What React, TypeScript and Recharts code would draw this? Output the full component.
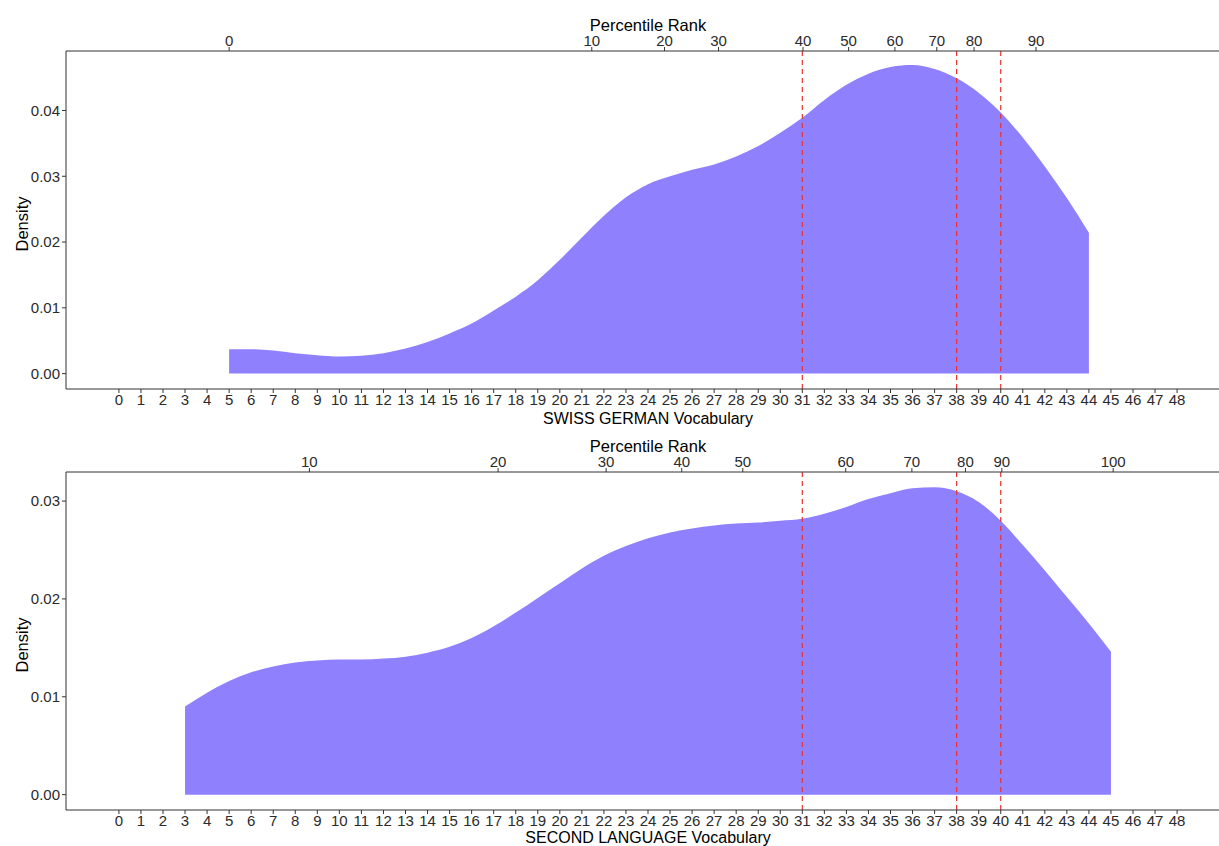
import React from 'react'
import { AreaChart, Area, XAxis, YAxis, ReferenceLine } from 'recharts'

const FONT = '"Liberation Sans", Arial, Helvetica, sans-serif'
const FILL = '#8f80fe'
const DASH = '#e8322f'

// bottom axis: vocabulary score
const vocabTicks = [
  0, 1, 2, 3, 4, 5, 6, 7, 8, 9, 10, 11, 12, 13, 14, 15, 16, 17, 18, 19, 20, 21, 22, 23, 24,
  25, 26, 27, 28, 29, 30, 31, 32, 33, 34, 35, 36, 37, 38, 39, 40, 41, 42, 43, 44, 45, 46, 47, 48,
]
const cutoffs = [31, 38, 40]

// SWISS GERMAN
const sgScores = [
  5, 6, 7, 8, 9, 10, 11, 12, 13, 14, 15, 16, 17, 18, 19, 20, 21, 22, 23, 24,
  25, 26, 27, 28, 29, 30, 31, 32, 33, 34, 35, 36, 37, 38, 39, 40, 41, 42, 43, 44,
]
const sgDensity = [
  0.0037, 0.0037, 0.0035, 0.0031, 0.0028, 0.0026, 0.0027, 0.0031, 0.0038, 0.0048,
  0.0061, 0.0076, 0.0096, 0.0117, 0.0142, 0.0173, 0.0207, 0.024, 0.0268, 0.0288,
  0.03, 0.031, 0.0318, 0.033, 0.0346, 0.0366, 0.0389, 0.0416, 0.0439, 0.0456,
  0.0466, 0.0469, 0.0463, 0.0449, 0.0427, 0.0397, 0.0359, 0.0315, 0.0267, 0.0214,
]
const sgRankPos = [5, 21.45, 24.75, 27.2, 31.03, 33.1, 35.2, 37.1, 38.79, 41.6]
const sgRankLabels = ['0', '10', '20', '30', '40', '50', '60', '70', '80', '90']

// SECOND LANGUAGE
const slScores = [
  3, 4, 5, 6, 7, 8, 9, 10, 11, 12, 13, 14, 15, 16, 17, 18, 19, 20, 21, 22, 23, 24,
  25, 26, 27, 28, 29, 30, 31, 32, 33, 34, 35, 36, 37, 38, 39, 40, 41, 42, 43, 44, 45,
]
const slDensity = [
  0.009, 0.0104, 0.0116, 0.0125, 0.0131, 0.0135, 0.0137, 0.0138, 0.0138, 0.0139,
  0.0141, 0.0145, 0.0151, 0.016, 0.0172, 0.0186, 0.0201, 0.0216, 0.0231, 0.0244,
  0.0254, 0.0262, 0.0268, 0.0272, 0.0275, 0.0277, 0.0278, 0.028, 0.0282, 0.0287,
  0.0294, 0.0302, 0.0308, 0.0313, 0.0314, 0.031, 0.0299, 0.028, 0.0255, 0.0229,
  0.0202, 0.0175, 0.0146,
]
const slRankPos = [8.64, 17.2, 22.1, 25.53, 28.3, 32.97, 35.97, 38.4, 40.05, 45.1]
const slRankLabels = ['10', '20', '30', '40', '50', '60', '70', '80', '90', '100']

const sgYTicks = [0, 0.01, 0.02, 0.03, 0.04]
const slYTicks = [0, 0.01, 0.02, 0.03]

const tickStyle = { fill: '#2b2b2b', fontSize: 15, fontFamily: FONT }

function TopTitle(props: any) {
  const vb = props.viewBox
  return (
    <text x={vb.x + vb.width / 2} y={vb.y + 31} textAnchor="middle" fontSize={16.5} fontFamily={FONT} fill="#000">
      Percentile Rank
    </text>
  )
}

function makeBottomTitle(title: string, offset: number) {
  return function BottomTitle(props: any) {
    const vb = props.viewBox
    return (
      <text x={vb.x + vb.width / 2} y={vb.y + offset} textAnchor="middle" fontSize={16} fontFamily={FONT} fill="#000">
        {title}
      </text>
    )
  }
}

function DensityTitle(props: any) {
  const vb = props.viewBox
  const cx = 22
  const cy = vb.y + vb.height / 2 + 4
  return (
    <text
      x={cx}
      y={cy}
      transform={`rotate(-90 ${cx} ${cy})`}
      textAnchor="middle"
      dominantBaseline="central"
      fontSize={16.5}
      fontFamily={FONT}
      fill="#000"
    >
      Density
    </text>
  )
}

interface PanelProps {
  scores: number[]
  density: number[]
  rankPos: number[]
  rankLabels: string[]
  yTicks: number[]
  yDomain: [number, number]
  title: string
  titleOffset: number
}

function DensityPanel({ scores, density, rankPos, rankLabels, yTicks, yDomain, title, titleOffset }: PanelProps) {
  const data = scores.map((s, i) => ({ score: s, density: density[i] }))
  const BottomTitle = makeBottomTitle(title, titleOffset)
  return (
    <AreaChart width={1230} height={431} data={data} margin={{ top: 0, right: 0, bottom: 0, left: 0 }}>
      <XAxis
        xAxisId="top"
        orientation="top"
        type="number"
        dataKey="score"
        domain={[-2.4, 50.4]}
        allowDataOverflow
        ticks={rankPos}
        interval={0}
        tickFormatter={(v: number) => rankLabels[rankPos.indexOf(v)] ?? ''}
        height={51}
        tickSize={4}
        tickMargin={1}
        tick={tickStyle}
        stroke="#333"
        label={<TopTitle />}
      />
      <XAxis
        xAxisId="bottom"
        orientation="bottom"
        type="number"
        dataKey="score"
        domain={[-2.4, 50.4]}
        allowDataOverflow
        ticks={vocabTicks}
        interval={0}
        height={42}
        tickSize={4}
        tickMargin={1}
        tick={tickStyle}
        stroke="#333"
        label={<BottomTitle />}
      />
      <YAxis
        type="number"
        domain={yDomain}
        allowDataOverflow
        ticks={yTicks}
        interval={0}
        width={66}
        tickSize={4}
        tickMargin={2}
        tick={tickStyle}
        tickFormatter={(v: number) => v.toFixed(2)}
        stroke="#333"
        label={<DensityTitle />}
      />
      <Area
        xAxisId="bottom"
        type="monotone"
        dataKey="density"
        baseValue={0}
        stroke="none"
        fill={FILL}
        fillOpacity={1}
        isAnimationActive={false}
      />
      {cutoffs.map((c) => (
        <ReferenceLine key={c} xAxisId="bottom" x={c} stroke={DASH} strokeWidth={1.2} strokeDasharray="5 4" />
      ))}
    </AreaChart>
  )
}

export default function App() {
  return (
    <div style={{ position: 'absolute', left: 0, top: 0, width: 1219, height: 846, overflow: 'hidden', background: '#fff' }}>
      <div style={{ position: 'absolute', left: 0, top: 0 }}>
        <DensityPanel
          scores={sgScores}
          density={sgDensity}
          rankPos={sgRankPos}
          rankLabels={sgRankLabels}
          yTicks={sgYTicks}
          yDomain={[-0.00234, 0.04904]}
          title="SWISS GERMAN Vocabulary"
          titleOffset={35}
        />
      </div>
      <div style={{ position: 'absolute', left: 0, top: 421 }}>
        <DensityPanel
          scores={slScores}
          density={slDensity}
          rankPos={slRankPos}
          rankLabels={slRankLabels}
          yTicks={slYTicks}
          yDomain={[-0.00157, 0.03297]}
          title="SECOND LANGUAGE Vocabulary"
          titleOffset={32.5}
        />
      </div>
    </div>
  )
}
